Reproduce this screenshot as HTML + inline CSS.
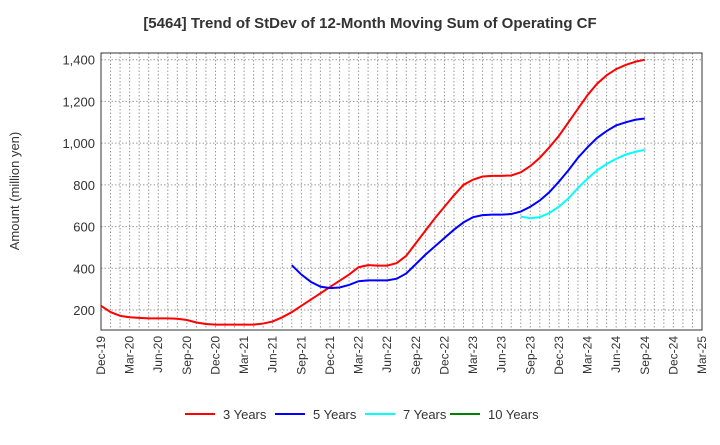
<!DOCTYPE html>
<html><head><meta charset="utf-8"><style>
body{margin:0;background:#fff;}
svg{font-family:"Liberation Sans",sans-serif;}
</style></head><body>
<svg id="c" width="720" height="440" xmlns="http://www.w3.org/2000/svg">
<text x="370" y="28" text-anchor="middle" font-size="15" font-weight="bold" fill="#333">[5464]  Trend of StDev of 12-Month Moving Sum of Operating CF</text>
<text transform="translate(19,191) rotate(-90)" text-anchor="middle" font-size="13" fill="#333">Amount (million yen)</text>
<g id="grid"></g><g id="axes"></g><g id="series"></g><g id="legend"></g>
</svg>
<script>
const xLabels=["Dec-19","Mar-20","Jun-20","Sep-20","Dec-20","Mar-21","Jun-21","Sep-21","Dec-21","Mar-22","Jun-22","Sep-22","Dec-22","Mar-23","Jun-23","Sep-23","Dec-23","Mar-24","Jun-24","Sep-24","Dec-24","Mar-25"];
const yTicks=[200,400,600,800,1000,1200,1400];
const s3=[220,190,172,165,162,160,160,160,158,152,140,133,130,130,130,130,130,135,145,165,190,220,250,280,310,340,370,405,415,413,413,425,460,520,580,640,695,750,800,825,840,843,843,845,860,890,930,980,1035,1100,1165,1230,1285,1325,1355,1375,1390,1400];
const s5Start=20;
const s5=[415,370,335,312,305,308,320,338,342,342,342,350,375,420,465,505,545,585,620,645,655,657,657,660,672,695,725,765,815,870,930,980,1025,1058,1085,1100,1112,1118];
const s7Start=44;
const s7=[648,640,645,665,695,735,785,830,870,900,925,945,958,968];
const s10=[];
const seriesNames=["3 Years","5 Years","7 Years","10 Years"];
const colors=["#ff0000","#0000ff","#00ffff","#008000"];
const L=101,R=702,T=53,B=330;
const x=i=>L+i*(R-L)/63;
const y=v=>310-(v-200)*250.3/1200;
const NS="http://www.w3.org/2000/svg";
function mk(t,a,p){const e=document.createElementNS(NS,t);for(const k in a)e.setAttribute(k,a[k]);p.appendChild(e);return e;}
const g=document.getElementById('grid');
for(let m=1;m<63;m++){const l=mk('line',{x1:x(m),x2:x(m),y1:T,y2:B,stroke:'#999','stroke-dasharray':'1.5,2','stroke-width':1},g);

}
const ax=document.getElementById('axes');
yTicks.forEach(v=>{const l=mk('line',{x1:L,x2:R,y1:y(v),y2:y(v),stroke:'#999','stroke-dasharray':'1.5,2'},g);


const t=mk('text',{x:L-6,y:y(v)+5,'text-anchor':'end','font-size':13,fill:'#333'},ax);t.textContent=v.toLocaleString('en-US');

});
xLabels.forEach((s,i)=>{const px=x(i*3);const t=mk('text',{transform:`translate(${px+4},${B+6}) rotate(-90)`,'text-anchor':'end','font-size':12,fill:'#333'},ax);t.textContent=s;

});
const f=mk('rect',{x:L,y:T,width:R-L,height:B-T,fill:'none',stroke:'#333','stroke-width':1},ax);


const sg=document.getElementById('series');
[[s3,0],[s5,s5Start],[s7,s7Start],[s10,0]].forEach(([d,st],k)=>{if(!d.length)return;
const p=mk('polyline',{points:d.map((v,i)=>x(st+i)+','+y(v)).join(' '),fill:'none',stroke:colors[k],'stroke-width':2},sg);

});
const lg=document.getElementById('legend');
const lx=[185,275,365,450];
seriesNames.forEach((n,k)=>{const e=mk('g',{},lg);


mk('line',{x1:lx[k],x2:lx[k]+30,y1:414,y2:414,stroke:colors[k],'stroke-width':2},e);
const t=mk('text',{x:lx[k]+38,y:419,'font-size':13,fill:'#333'},e);t.textContent=n;});
</script>
</body></html>
